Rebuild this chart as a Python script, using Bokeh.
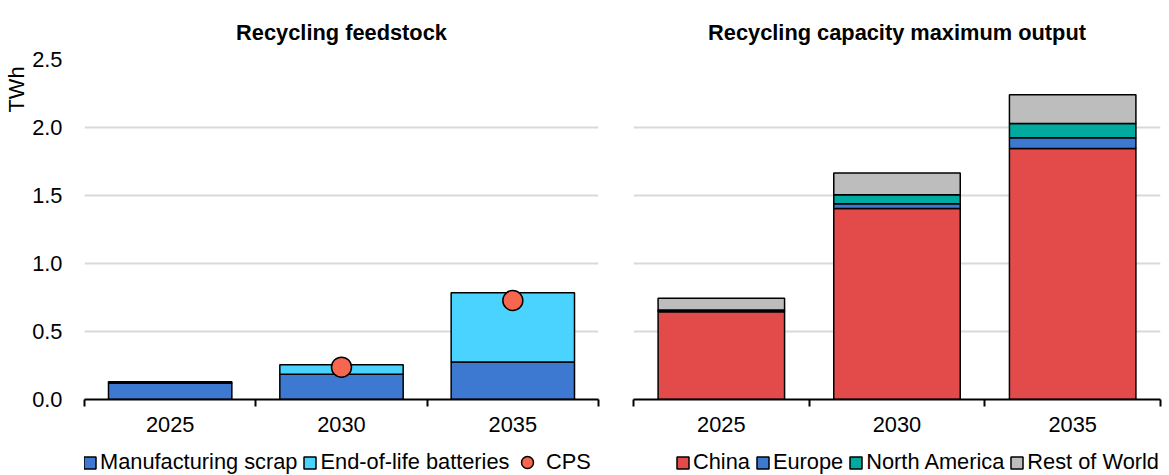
from bokeh.plotting import figure
from bokeh.layouts import row, column
from bokeh.models import (ColumnDataSource, Range1d, FixedTicker, NumeralTickFormatter,
                          Title, Legend, LegendItem)
from bokeh.embed import file_html
from bokeh.resources import INLINE

# ---------------- data ----------------
years = ["2025", "2030", "2035"]

# Left panel: Recycling feedstock (TWh)
manufacturing_scrap = [0.12, 0.185, 0.275]
end_of_life_batteries = [0.01, 0.07, 0.51]
cps_years = ["2030", "2035"]
cps_values = [0.238, 0.728]

# Right panel: Recycling capacity maximum output (TWh)
china = [0.645, 1.405, 1.845]
europe = [0.007, 0.035, 0.08]
north_america = [0.007, 0.065, 0.105]
rest_of_world = [0.085, 0.16, 0.21]

y_ticks = [0.0, 0.5, 1.0, 1.5, 2.0, 2.5]

# ---------------- style ----------------
FONT = "Liberation Sans"
FS = "21.8px"
C_SCRAP = "#3E79D1"
C_EOL = "#4AD3FE"
C_CPS = "#F7674F"
C_CHINA = "#E34B4B"
C_EUROPE = "#3E79D1"
C_NA = "#00AA9E"
C_ROW = "#BDBDBD"
GRID = "#D9D9D9"
CHART_H = 443
LEG_H = 475 - CHART_H

pos = {y: i + 1 for i, y in enumerate(years)}
xs = [pos[y] for y in years]
bounds = [x - 0.5 for x in xs] + [xs[-1] + 0.5]


def make_fig(title, width, mbl, mbr):
    p = figure(width=width, height=CHART_H,
               x_range=Range1d(bounds[0], bounds[-1]), y_range=Range1d(0, 2.5),
               output_backend="svg", toolbar_location=None,
               min_border_left=mbl, min_border_right=mbr,
               min_border_top=59, min_border_bottom=CHART_H - 59 - 340)
    p.outline_line_color = None
    p.background_fill_color = "white"
    p.border_fill_color = "white"
    p.title.text = title
    p.title.align = "center"
    p.title.text_font = FONT
    p.title.text_font_size = FS
    p.title.text_font_style = "bold"
    p.title.text_color = "black"
    p.title.standoff = 30

    p.xgrid.visible = False
    p.ygrid.ticker = FixedTicker(ticks=y_ticks)
    p.ygrid.grid_line_color = GRID
    p.ygrid.grid_line_width = 2

    xa = p.xaxis[0]
    xa.ticker = FixedTicker(ticks=xs, minor_ticks=bounds)
    xa.major_label_overrides = {pos[y]: y for y in years}
    xa.major_tick_line_color = None
    xa.minor_tick_in = 0
    xa.minor_tick_out = 7
    xa.minor_tick_line_color = "black"
    xa.minor_tick_line_width = 2
    xa.axis_line_color = "black"
    xa.axis_line_width = 2
    xa.major_label_standoff = 10
    xa.major_label_text_font = FONT
    xa.major_label_text_font_size = FS
    xa.major_label_text_color = "black"

    ya = p.yaxis[0]
    ya.ticker = FixedTicker(ticks=y_ticks)
    ya.formatter = NumeralTickFormatter(format="0.0")
    ya.axis_line_color = None
    ya.major_tick_line_color = None
    ya.minor_tick_line_color = None
    ya.major_label_standoff = 16
    ya.major_label_text_font = FONT
    ya.major_label_text_font_size = FS
    ya.major_label_text_color = "black"
    return p


def make_legend_fig(width):
    # Strip under a chart that only carries its legend (its renderers are hidden).
    lf = figure(width=width, height=LEG_H, x_range=Range1d(bounds[0], bounds[-1]),
                y_range=Range1d(0, 2.5), output_backend="svg", toolbar_location=None,
                x_axis_location=None, y_axis_location=None,
                min_border=0, min_border_left=0, min_border_right=0,
                min_border_top=0, min_border_bottom=0)
    lf.outline_line_color = None
    lf.xgrid.visible = False
    lf.ygrid.visible = False
    lf.background_fill_color = "white"
    lf.border_fill_color = "white"
    return lf


def make_legend(items, loc, gw=15, gh=15):
    return Legend(items=items, orientation="horizontal", location=loc,
                  glyph_width=gw, glyph_height=gh, label_standoff=3, spacing=5,
                  padding=0, margin=0, border_line_color=None,
                  background_fill_alpha=0,
                  label_text_font=FONT, label_text_font_size=FS,
                  label_text_color="black", label_height=20)


# ---------------- left chart ----------------
src1 = ColumnDataSource(dict(x=xs, scrap=manufacturing_scrap, eol=end_of_life_batteries))
cps_src = ColumnDataSource(dict(x=[pos[y] for y in cps_years], y=cps_values))

p1 = make_fig("Recycling feedstock", 607, 81, 9)
p1.vbar_stack(["scrap", "eol"], x="x", width=0.72, source=src1,
              fill_color=[C_SCRAP, C_EOL], line_color="black", line_width=1.5)
p1.ellipse(x="x", y="y", width=20, height=20, width_units="screen",
           height_units="screen", source=cps_src,
           fill_color=C_CPS, line_color="black", line_width=1.5)
p1.add_layout(Title(text="TWh", align="right", text_font=FONT, text_font_size=FS,
                    text_font_style="normal", text_color="black", offset=7,
                    standoff=2), "left")

l1 = make_legend_fig(607)
lb = l1.vbar_stack(["scrap", "eol"], x="x", width=0.72, source=src1,
                   fill_color=[C_SCRAP, C_EOL], line_color="black", line_width=1.5)
lp = l1.scatter(x="x", y="y", size=20, marker="circle", source=cps_src,
                fill_color=C_CPS, line_color="black", line_width=1.5)
for r in list(lb) + [lp]:
    r.visible = False
l1.add_layout(make_legend([
    LegendItem(label="Manufacturing scrap", renderers=[lb[0]]),
    LegendItem(label="End-of-life batteries", renderers=[lb[1]]),
], (-2, 0)))
l1.add_layout(make_legend([
    LegendItem(label="CPS", renderers=[lp]),
], (427, -2), gw=32, gh=30))

# ---------------- right chart ----------------
src2 = ColumnDataSource(dict(x=xs, china=china, europe=europe, na=north_america,
                             row=rest_of_world))
p2 = make_fig("Recycling capacity maximum output", 562, 26, 9)
p2.yaxis.visible = False
p2.vbar_stack(["china", "europe", "na", "row"], x="x", width=0.72, source=src2,
              fill_color=[C_CHINA, C_EUROPE, C_NA, C_ROW], line_color="black",
              line_width=1.5)

l2 = make_legend_fig(562)
rb = l2.vbar_stack(["china", "europe", "na", "row"], x="x", width=0.72, source=src2,
                   fill_color=[C_CHINA, C_EUROPE, C_NA, C_ROW], line_color="black",
                   line_width=1.5)
for r in rb:
    r.visible = False
l2.add_layout(make_legend([
    LegendItem(label="China", renderers=[rb[0]]),
    LegendItem(label="Europe", renderers=[rb[1]]),
    LegendItem(label="North America", renderers=[rb[2]]),
    LegendItem(label="Rest of World", renderers=[rb[3]]),
], (42, 0)))

layout = row(column(p1, l1), column(p2, l2))
open("out.html", "w").write(file_html(layout, INLINE))
